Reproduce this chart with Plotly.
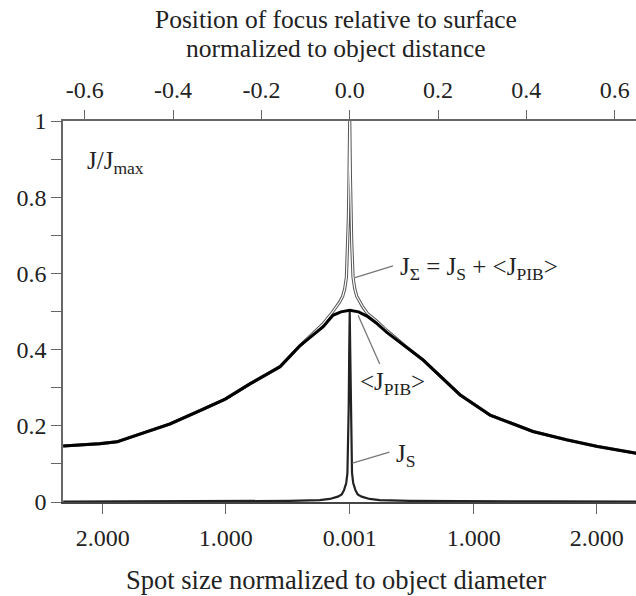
import plotly.graph_objects as go

# ---- data ----
# x: position of focus relative to surface, normalized to object distance
pib_x = [-0.649, -0.566, -0.527, -0.475, -0.407, -0.339, -0.282, -0.226, -0.158, -0.113,
         -0.060, -0.038, -0.020, 0.0, 0.020, 0.039, 0.060, 0.084, 0.125, 0.166,
         0.25, 0.318, 0.415, 0.492, 0.56, 0.649]
pib_y = [0.147, 0.153, 0.158, 0.178, 0.205, 0.24, 0.27, 0.31, 0.355, 0.41,
         0.46, 0.49, 0.499, 0.503, 0.499, 0.488, 0.47, 0.445, 0.41, 0.373,
         0.281, 0.228, 0.185, 0.163, 0.146, 0.128]

sum_x = [-0.649, -0.566, -0.527, -0.475, -0.407, -0.339, -0.282, -0.226, -0.158, -0.113,
         -0.060, -0.040, -0.029, -0.0227, -0.0159, -0.0113, -0.0075, -0.0045, -0.0029,
         -0.0016, 0.0, 0.0016, 0.0029, 0.0045, 0.0075, 0.0113, 0.0159, 0.0227, 0.029,
         0.040, 0.060, 0.084, 0.125, 0.166, 0.25, 0.318, 0.415, 0.492, 0.56, 0.649]
sum_y = [0.147, 0.153, 0.158, 0.178, 0.205, 0.24, 0.27, 0.31, 0.355, 0.41,
         0.468, 0.497, 0.513, 0.525, 0.54, 0.56, 0.59, 0.68, 0.75,
         0.85, 1.0, 0.85, 0.75, 0.68, 0.59, 0.56, 0.54, 0.525, 0.513,
         0.495, 0.476, 0.45, 0.41, 0.373, 0.281, 0.228, 0.185, 0.163, 0.146, 0.128]

js_x = [-0.649, -0.45, -0.25, -0.136, -0.068, -0.045, -0.027, -0.018, -0.0129, -0.0079,
        -0.0052, -0.0034, -0.0023, -0.0011, 0.0, 0.0011, 0.0023, 0.0034, 0.0052, 0.0079,
        0.0129, 0.018, 0.027, 0.045, 0.068, 0.136, 0.25, 0.45, 0.649]
js_y = [0.001, 0.0015, 0.002, 0.003, 0.005, 0.008, 0.014, 0.02, 0.031, 0.05,
        0.076, 0.16, 0.25, 0.40, 0.5, 0.40, 0.25, 0.16, 0.076, 0.05,
        0.031, 0.02, 0.014, 0.008, 0.005, 0.003, 0.002, 0.0015, 0.001]

top_tickvals = [-0.6, -0.4, -0.2, 0.0, 0.2, 0.4, 0.6]
top_ticktext = ["-0.6", "-0.4", "-0.2", "0.0", "0.2", "0.4", "0.6"]
bottom_tickvals = [-0.5595, -0.281, 0.0, 0.281, 0.5595]
bottom_ticktext = ["2.000", "1.000", "0.001", "1.000", "2.000"]
y_tickvals = [0, 0.2, 0.4, 0.6, 0.8, 1.0]
y_ticktext = ["0", "0.2", "0.4", "0.6", "0.8", "1"]
y_minor_vals = [0.1, 0.3, 0.5, 0.7, 0.9]

FONT = "Liberation Serif, Times New Roman, serif"
AX = "#666666"
TXT = "#222222"

fig = go.Figure()
# J_sigma drawn as hollow line (grey outline, white core)
fig.add_trace(go.Scatter(x=sum_x, y=sum_y, mode="lines", line=dict(color="#555555", width=3.2),
                         hoverinfo="skip", showlegend=False))
fig.add_trace(go.Scatter(x=sum_x, y=sum_y, mode="lines", line=dict(color="white", width=1.2),
                         hoverinfo="skip", showlegend=False))
fig.add_trace(go.Scatter(x=pib_x, y=pib_y, mode="lines", line=dict(color="black", width=3.0),
                         showlegend=False))
fig.add_trace(go.Scatter(x=js_x, y=js_y, mode="lines", line=dict(color="#222222", width=2.2),
                         showlegend=False, xaxis="x2"))

# leader lines
leaders = [
    ((0.012, 0.589), (0.098, 0.620)),
    ((0.019, 0.490), (0.068, 0.362)),
    ((0.006, 0.102), (0.090, 0.131)),
]
for (x0, y0), (x1, y1) in leaders:
    fig.add_shape(type="line", x0=x0, y0=y0, x1=x1, y1=y1, xref="x", yref="y",
                  line=dict(color="#777777", width=1.3))

ann_font = dict(family=FONT, size=25, color=TXT)
fig.add_annotation(x=0.110, y=0.614, xref="x", yref="y", xanchor="left", yanchor="middle",
                   text="J<sub>Σ</sub> = J<sub>S</sub> + &lt;J<sub>PIB</sub>&gt;", showarrow=False,
                   font=ann_font)
fig.add_annotation(x=0.096, y=0.312, xref="x", yref="y", xanchor="center", yanchor="middle",
                   text="&lt;J<sub>PIB</sub>&gt;", showarrow=False, font=ann_font)
fig.add_annotation(x=0.100, y=0.123, xref="x", yref="y", xanchor="left", yanchor="middle",
                   text="J<sub>S</sub>", showarrow=False, font=ann_font)
fig.add_annotation(x=-0.6, y=0.89, xref="x", yref="y", xanchor="left", yanchor="middle",
                   text="J/J<sub>max</sub>", showarrow=False, font=ann_font)

# axis titles
title_font = dict(family=FONT, size=25.5, color=TXT)
fig.add_annotation(x=0.4764, y=1.2677, xref="paper", yref="paper", xanchor="center", yanchor="middle",
                   text="Position of focus relative to surface", showarrow=False, font=title_font)
fig.add_annotation(x=0.4764, y=1.1890, xref="paper", yref="paper", xanchor="center", yanchor="middle",
                   text="normalized to object distance", showarrow=False, font=title_font)
fig.add_annotation(x=0.4764, y=-0.205, xref="paper", yref="paper", xanchor="center", yanchor="middle",
                   text="Spot size normalized to object diameter", showarrow=False,
                   font=dict(family=FONT, size=26.5, color=TXT))

tick_font = dict(family=FONT, size=24, color=TXT)
xr = [-0.6494, 0.6484]
fig.update_layout(
    width=636, height=596,
    margin=dict(l=63, r=0, t=121, b=94),
    paper_bgcolor="white", plot_bgcolor="white",
    xaxis=dict(range=xr, tickvals=bottom_tickvals, ticktext=bottom_ticktext, ticks="outside",
               ticklen=10, tickwidth=1.3, tickcolor=AX, showline=True, linecolor="#444444",
               linewidth=1.8, showgrid=False, zeroline=False, tickfont=tick_font,
               ticklabelstandoff=3),
    xaxis2=dict(range=xr, matches="x", overlaying="x", side="top", tickvals=top_tickvals,
                ticktext=top_ticktext, ticks="outside", ticklen=9, tickwidth=1.3, tickcolor=AX,
                showline=True, linecolor=AX, linewidth=1.5, showgrid=False, zeroline=False,
                tickfont=tick_font, ticklabelstandoff=3),
    yaxis=dict(range=[0, 1], tickvals=y_tickvals, ticktext=y_ticktext, ticks="outside",
               ticklen=10, tickwidth=1.3, tickcolor=AX, showline=True, linecolor=AX,
               linewidth=1.5, showgrid=False, zeroline=False, tickfont=tick_font,
               minor=dict(tickvals=y_minor_vals, ticks="outside", ticklen=10, tickwidth=1.3,
                          tickcolor=AX)),
)

fig.write_html("out.html", post_script="document.body.style.margin='0';",
               config={"displayModeBar": False})
